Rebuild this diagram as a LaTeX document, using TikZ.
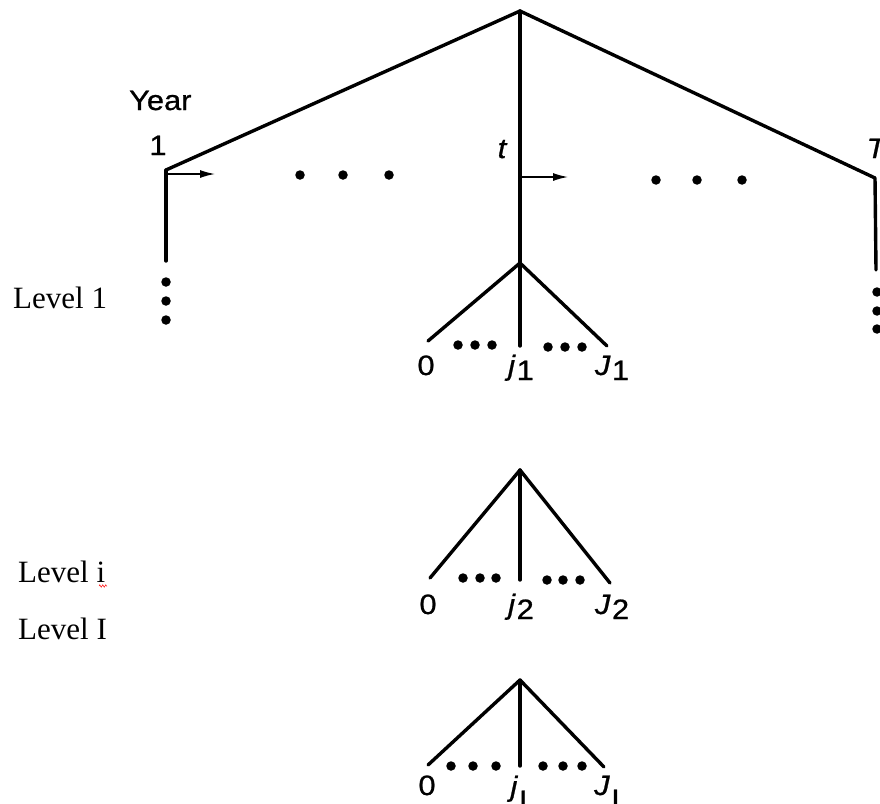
\documentclass[tikz,border=0pt]{standalone}
\usepackage{fontspec}
\usepackage{graphicx}
\setmainfont{Liberation Serif}
\newfontfamily\labfont[FakeBold=0.8]{Liberation Sans}
\usetikzlibrary{arrows.meta,decorations.pathmorphing}
\newcommand\wide[1]{\scalebox{1.1}[1]{#1}}
\newcommand\lowsub[2][-5pt]{\kern1.5pt\raisebox{#1}{\upshape #2}}
\tikzset{
  branch/.style={line width=3.4pt, line cap=round, line join=round},
  pointer/.style={line width=1.4pt, -{Latex[length=15pt,width=8pt]}},
  dotmark/.style={fill=black, circle, inner sep=0pt, minimum size=9.5pt},
  lab/.style={font=\labfont\fontsize{28}{32}\selectfont, inner sep=0pt, anchor=base},
  levellab/.style={font=\fontsize{31}{36}\selectfont, inner sep=0pt, anchor=base west},
}
\begin{document}
\begin{tikzpicture}[x=1pt,y=-1pt]
\useasboundingbox (0,0) rectangle (880,803);
% top structure
\coordinate (apex) at (520,11);
\coordinate (c1) at (166,170);
\coordinate (ct) at (520,171);
\coordinate (cT) at (875,178);
\coordinate (e1) at (166,261);
\coordinate (eT) at (876,270);
\draw[branch] (c1) -- (apex) -- (cT) -- (eT);
\draw[branch] (c1) -- (e1);
\draw[branch] (apex) -- (ct);
% labels of years
\node[lab, anchor=base west] (year) at (129,110) {\wide{Year}};
\node[lab] (one) at (158,155) {\wide{1}};
\node[lab] (tl) at (502,158) {\wide{\itshape t}};
\node[lab] (Tl) at (876,158) {\wide{\itshape T}};
% arrows
\coordinate (a1s) at (167,174);
\coordinate (a1e) at (215,174);
\coordinate (a2s) at (522,177);
\coordinate (a2e) at (568,177);
\draw[pointer] (a1s) -- (a1e);
\draw[pointer] (a2s) -- (a2e);
% horizontal dots
\node[dotmark] (h1) at (300,175) {};
\node[dotmark] (h2) at (343,175) {};
\node[dotmark] (h3) at (389,175) {};
\node[dotmark] (h4) at (656,180) {};
\node[dotmark] (h5) at (697,180) {};
\node[dotmark] (h6) at (742,180) {};
% vertical dots
\node[dotmark] (v1) at (166,282) {};
\node[dotmark] (v2) at (166,301) {};
\node[dotmark] (v3) at (166,320) {};
\node[dotmark] (v4) at (877,292) {};
\node[dotmark] (v5) at (877,311) {};
\node[dotmark] (v6) at (877,329) {};
% level labels
\node[levellab] (L1) at (13,308) {Level 1};
\node[levellab] (Li) at (18,582) {Level i};
\node[levellab] (LI) at (18,639) {Level I};
\draw[red, line width=0.5pt, decorate, decoration={zigzag, amplitude=1.2pt, segment length=3pt}] (99,586) -- (107,586);
% level 1 tree
\coordinate (t1) at (520,263);
\coordinate (t1l) at (428,341);
\coordinate (t1m) at (520,346);
\coordinate (t1r) at (607,346);
\draw[branch] (ct) -- (t1);
\draw[branch] (t1l) -- (t1) -- (t1r);
\draw[branch] (t1) -- (t1m);
\foreach \x/\y [count=\k] in {458/345,475/345,492/345,548/347,565/347,582/347}
  \node[dotmark] (t1d\k) at (\x,\y) {};
\node[lab] (t1a) at (426,375) {\wide{0}};
\node[lab] (t1b) at (521,375) {\wide{\itshape j\lowsub{1}}};
\node[lab] (t1c) at (612,375) {\wide{\itshape J\lowsub{1}}};
% level i tree
\coordinate (t2) at (520,470);
\coordinate (t2l) at (430,578);
\coordinate (t2m) at (520,580);
\coordinate (t2r) at (610,583);
\draw[branch] (t2l) -- (t2) -- (t2r);
\draw[branch] (t2) -- (t2m);
\foreach \x/\y [count=\k] in {463/578,480/578,496/578,547/580,563/580,580/580}
  \node[dotmark] (t2d\k) at (\x,\y) {};
\node[lab] (t2a) at (428,614) {\wide{0}};
\node[lab] (t2b) at (521,614) {\wide{\itshape j\lowsub{2}}};
\node[lab] (t2c) at (612,614) {\wide{\itshape J\lowsub{2}}};
% level I tree
\coordinate (t3) at (520,680);
\coordinate (t3l) at (428,765);
\coordinate (t3m) at (520,766);
\coordinate (t3r) at (604,767);
\draw[branch] (t3l) -- (t3) -- (t3r);
\draw[branch] (t3) -- (t3m);
\foreach \x/\y [count=\k] in {451/766,473/766,496/766,543/766,563/766,582/766}
  \node[dotmark] (t3d\k) at (\x,\y) {};
\node[lab] (t3a) at (427,795) {\wide{0}};
\node[lab] (t3b) at (519,796) {\wide{\itshape j\lowsub[-14pt]{I}}};
\node[lab] (t3c) at (607,795) {\wide{\itshape J\lowsub[-14pt]{I}}};
\end{tikzpicture}
\end{document}
